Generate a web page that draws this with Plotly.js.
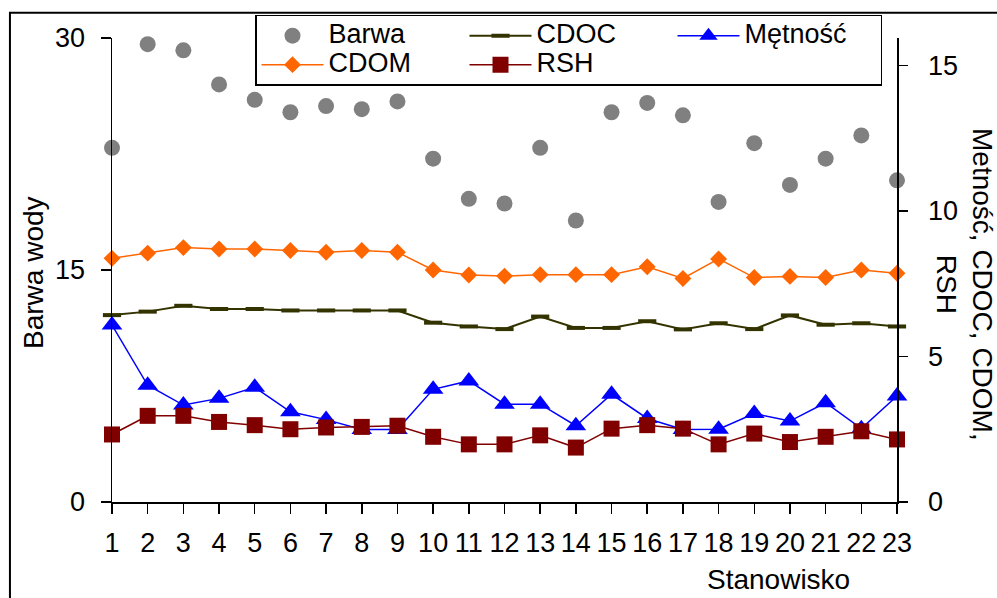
<!DOCTYPE html>
<html>
<head>
<meta charset="utf-8">
<script src="https://cdn.plot.ly/plotly-3.0.1.min.js"></script>
<style>html,body{margin:0;padding:0;background:#fff;}#chart{width:997px;height:598px;}</style>
</head>
<body>
<div id="chart"></div>
<script>
// Data
var stations = [1,2,3,4,5,6,7,8,9,10,11,12,13,14,15,16,17,18,19,20,21,22,23];
var xTickLabels = ["1","2","3","4","5","6","7","8","9","10","11","12","13","14","15","16","17","18","19","20","21","22","23"];
var seriesNames = ["Barwa","CDOC","Mętność","CDOM","RSH"];
var barwa = [22.9,29.6,29.2,27.0,26.0,25.2,25.6,25.4,25.9,22.2,19.6,19.3,22.9,18.2,25.2,25.8,25.0,19.4,23.2,20.5,22.2,23.7,20.8];
var cdoc = [6.42,6.54,6.74,6.63,6.63,6.58,6.58,6.58,6.58,6.16,6.03,5.94,6.37,5.98,5.98,6.21,5.93,6.14,5.94,6.41,6.09,6.14,6.03];
var metnosc = [6.08,4.01,3.33,3.56,3.94,3.10,2.83,2.49,2.49,3.87,4.16,3.36,3.36,2.62,3.70,2.87,2.49,2.50,3.04,2.78,3.41,2.52,3.64];
var cdom = [8.37,8.55,8.74,8.69,8.69,8.64,8.58,8.64,8.58,7.97,7.80,7.76,7.81,7.81,7.81,8.08,7.68,8.35,7.71,7.75,7.71,7.97,7.86];
var rsh = [2.32,2.96,2.96,2.75,2.64,2.50,2.56,2.58,2.62,2.24,1.98,1.98,2.29,1.87,2.52,2.64,2.52,1.98,2.35,2.06,2.24,2.43,2.15];
var leftTicks = [0,15,30];
var rightTicks = [0,5,10,15];

var FONT = "Liberation Sans, Arial, sans-serif";
function legName(s){ return '<span style="font-size:27px">' + s + '</span>'; }

var traces = [
  {name:legName(seriesNames[0]), x:stations, y:barwa, yaxis:"y", mode:"markers", type:"scatter", cliponaxis:false,
   marker:{symbol:"circle", size:16, color:"#808080"}},
  {name:legName(seriesNames[1]), x:stations, y:cdoc, yaxis:"y2", mode:"lines+markers", type:"scatter", cliponaxis:false,
   line:{color:"#333300", width:2},
   marker:{symbol:"line-ew", size:13, color:"#333300", line:{color:"#333300", width:4}}},
  {name:legName(seriesNames[2]), x:stations, y:metnosc, yaxis:"y2", mode:"lines+markers", type:"scatter", cliponaxis:false,
   line:{color:"#0000ff", width:1.5},
   marker:{symbol:"triangle-up", size:18, color:"#0000ff"}},
  {name:legName(seriesNames[3]), x:stations, y:cdom, yaxis:"y2", mode:"lines+markers", type:"scatter", cliponaxis:false,
   line:{color:"#ff6600", width:1.5},
   marker:{symbol:"diamond", size:13, color:"#ff6600"}},
  {name:legName(seriesNames[4]), x:stations, y:rsh, yaxis:"y2", mode:"lines+markers", type:"scatter", cliponaxis:false,
   line:{color:"#800000", width:1.5},
   marker:{symbol:"square", size:16, color:"#800000"}}
];

var layout = {
  width:997, height:598,
  margin:{l:112, r:100, t:38, b:96, pad:0},
  paper_bgcolor:"#ffffff", plot_bgcolor:"#ffffff",
  font:{family:FONT, size:27, color:"#000"},
  showlegend:true,
  xaxis:{range:[1,23], tickmode:"array", tickvals:stations, ticktext:xTickLabels,
    showgrid:false, zeroline:false, showline:true, linecolor:"#000", linewidth:1.5,
    ticks:"outside", ticklen:10, tickwidth:1.5, tickcolor:"#000",
    tickfont:{family:FONT, size:27}, ticklabelstandoff:6},
  yaxis:{range:[0,30], tickmode:"array", tickvals:leftTicks, ticktext:leftTicks.map(String),
    showgrid:false, zeroline:false, showline:true, linecolor:"#000", linewidth:1.5,
    ticks:"outside", ticklen:10, tickwidth:1.5, tickcolor:"#000",
    tickfont:{family:FONT, size:27}, ticklabelstandoff:10},
  yaxis2:{range:[0,15.94], overlaying:"y", side:"right", tickmode:"array", tickvals:rightTicks,
    ticktext:rightTicks.map(String),
    showgrid:false, zeroline:false, showline:true, linecolor:"#000", linewidth:1.5,
    ticks:"outside", ticklen:9, tickwidth:1.5, tickcolor:"#000",
    tickfont:{family:FONT, size:27}, ticklabelstandoff:15},
  legend:{orientation:"h", x:(255-112)/785, xanchor:"left", y:1.0503, yanchor:"top",
    bgcolor:"#ffffff", bordercolor:"#000", borderwidth:1.5,
    font:{family:FONT, size:20}, itemwidth:62, entrywidth:131, entrywidthmode:"pixels",
    tracegroupgap:0, itemclick:false},
  shapes:[
    {type:"rect", xref:"paper", yref:"paper", x0:-0.13, x1:1.3, y0:-0.4, y1:1.0546,
     line:{color:"#000", width:2}, fillcolor:"rgba(0,0,0,0)", layer:"below"}
  ],
  annotations:[
    {text:"Barwa wody", xref:"paper", yref:"paper", x:-0.0994, y:0.4957, textangle:-90,
     showarrow:false, xanchor:"center", yanchor:"middle", font:{family:FONT, size:28}},
    {text:"Metność, CDOC, CDOM,<br>RSH", xref:"paper", yref:"paper", x:(965-112)/785, y:(501.7-284)/463.4, textangle:90,
     showarrow:false, xanchor:"center", yanchor:"middle", align:"center", font:{family:FONT, size:28}},
    {text:"Stanowisko", xref:"paper", yref:"paper", x:(778-112)/785, y:(501.7-579)/463.4,
     showarrow:false, xanchor:"center", yanchor:"middle", font:{family:FONT, size:28}}
  ]
};

Plotly.newPlot("chart", traces, layout, {displayModeBar:false, staticPlot:true});
</script>
</body>
</html>
